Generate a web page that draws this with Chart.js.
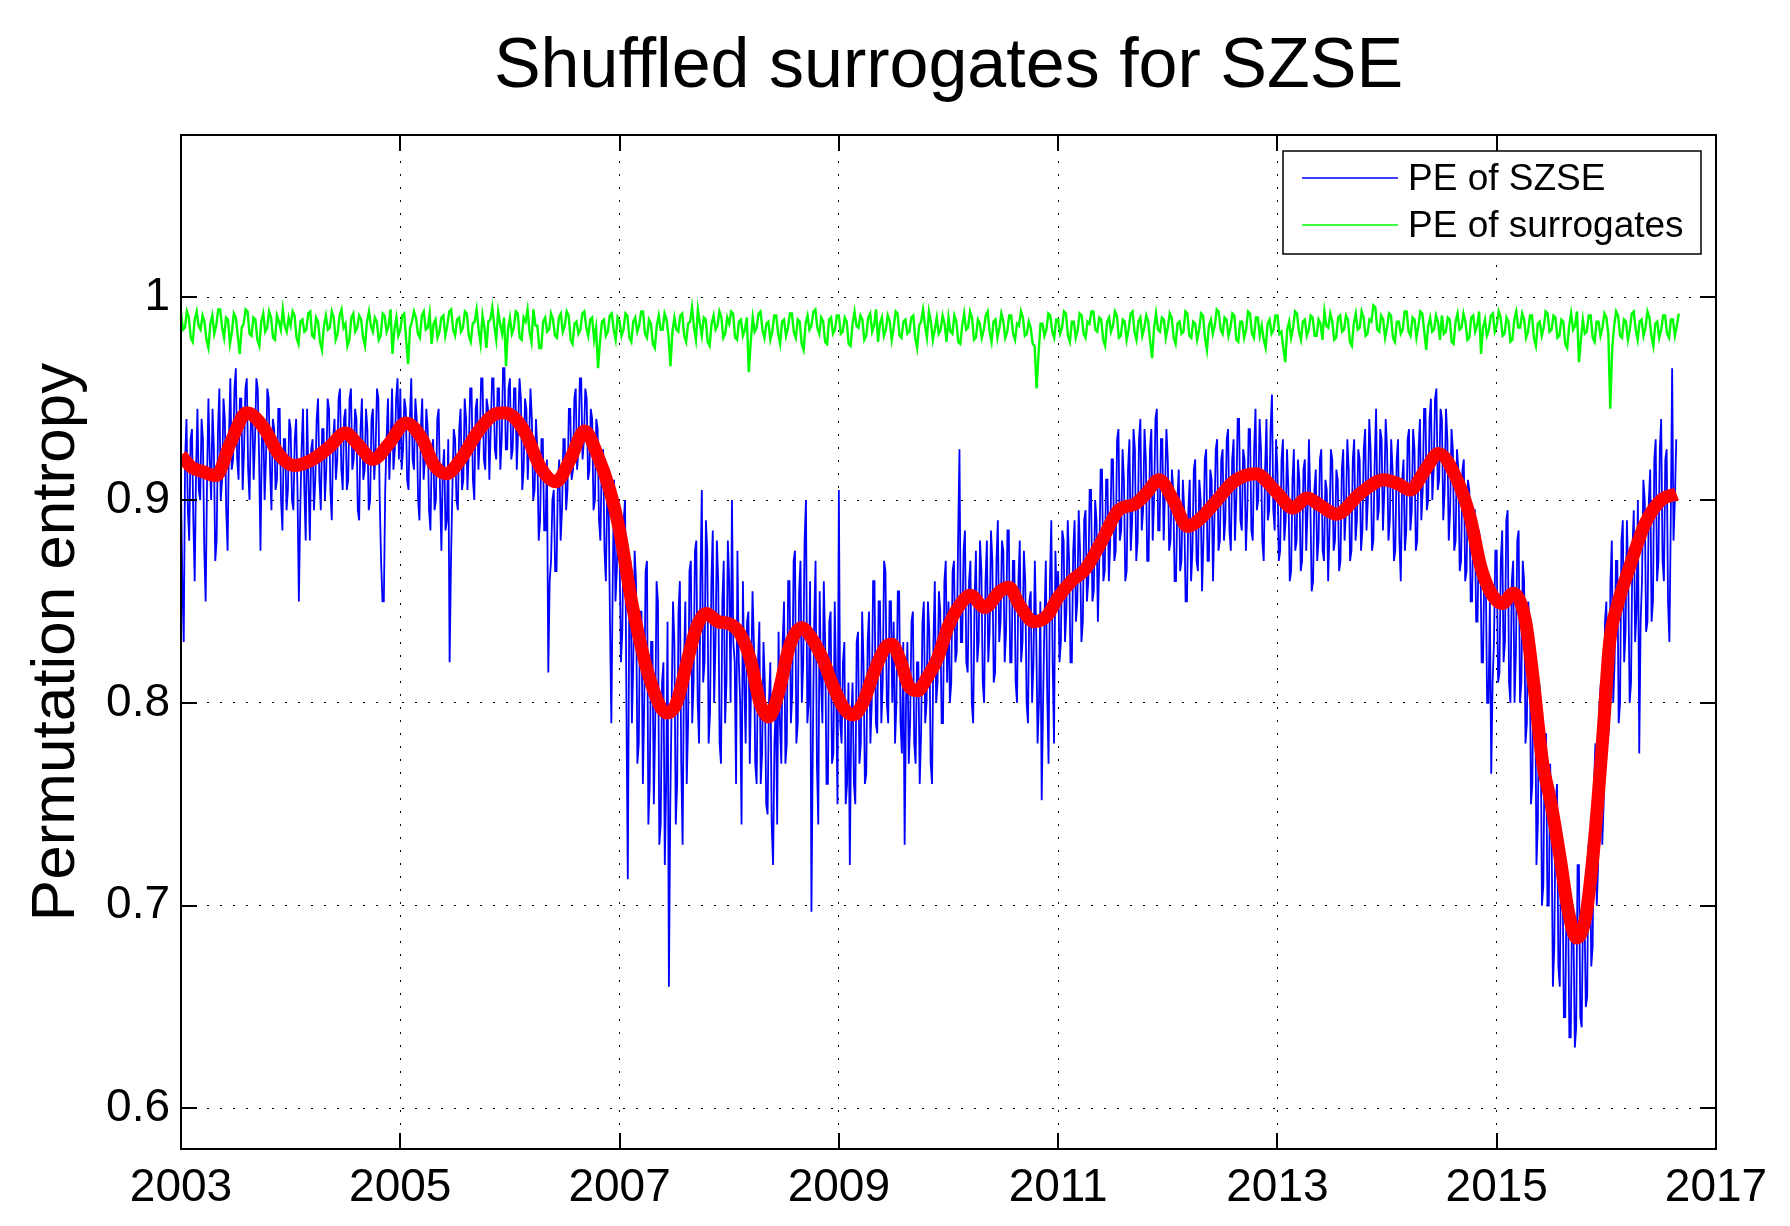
<!DOCTYPE html>
<html>
<head>
<meta charset="utf-8">
<title>Shuffled surrogates for SZSE</title>
<script src="https://cdn.jsdelivr.net/npm/chart.js@4.4.1/dist/chart.umd.min.js"></script>
<style>
  html, body { margin: 0; padding: 0; background: #fff; }
  #wrap { width: 1790px; height: 1226px; }
</style>
</head>
<body>
<div id="wrap"><canvas id="chart" width="1790" height="1226"></canvas></div>
<script>
// Axis ticks
const xTicks = [2003, 2005, 2007, 2009, 2011, 2013, 2015, 2017];
const yTicks = [0.6, 0.7, 0.8, 0.9, 1.0];

// PE of SZSE, one value every 1/80 year from 2003.0 (two lines = half a year)
const szseStart = 2003;
const szseStep = 1 / 80;
const szseValues = [
  .905,.86,.83,.92,.94,.895,.88,.93,.935,.89,.86,.915,.945,.905,.90,.94,.93,.875,.85,.91,
  .95,.92,.90,.945,.925,.87,.88,.935,.955,.90,.91,.95,.94,.895,.875,.93,.96,.915,.92,.955,
  .965,.92,.91,.95,.95,.905,.925,.955,.96,.915,.90,.94,.945,.91,.93,.96,.955,.92,.875,.93,
  .94,.90,.92,.955,.95,.915,.895,.94,.935,.905,.91,.945,.945,.90,.885,.93,.93,.895,.905,.94,
  .935,.90,.895,.93,.94,.905,.85,.895,.925,.945,.905,.88,.945,.91,.88,.925,.93,.895,.91,.94,
  .95,.91,.895,.935,.935,.90,.915,.95,.945,.905,.89,.93,.94,.91,.92,.95,.955,.915,.905,.94,
  .945,.905,.91,.95,.955,.915,.92,.945,.94,.895,.89,.935,.95,.91,.915,.945,.935,.895,.90,.94,
  .945,.91,.925,.955,.95,.90,.87,.85,.85,.905,.93,.95,.91,.93,.955,.915,.925,.95,.96,.92,
  .955,.915,.925,.95,.945,.91,.905,.94,.96,.92,.915,.95,.94,.90,.89,.935,.95,.91,.92,.945,
  .935,.895,.885,.925,.93,.895,.90,.94,.945,.905,.875,.915,.925,.885,.89,.93,.82,.87,.905,.935,
  .93,.90,.895,.935,.945,.905,.91,.95,.94,.905,.925,.955,.955,.91,.90,.945,.95,.915,.93,.96,
  .96,.92,.915,.95,.945,.91,.935,.96,.96,.925,.92,.955,.955,.915,.93,.965,.965,.925,.925,.955,
  .96,.92,.925,.955,.955,.915,.935,.96,.95,.905,.915,.95,.945,.91,.93,.955,.94,.90,.905,.94,
  .925,.88,.89,.93,.93,.885,.885,.92,.815,.86,.87,.90,.905,.865,.865,.91,.92,.88,.895,.93,
  .93,.895,.905,.945,.945,.91,.915,.95,.955,.915,.925,.96,.96,.92,.93,.955,.95,.91,.915,.945,
  .94,.895,.90,.94,.935,.89,.88,.92,.925,.875,.86,.905,.90,.84,.79,.86,.91,.85,.865,.90,
  .875,.82,.835,.89,.90,.80,.713,.84,.87,.79,.82,.875,.86,.77,.78,.845,.845,.76,.80,.865,
  .87,.74,.76,.83,.83,.75,.79,.86,.85,.73,.74,.81,.82,.72,.76,.84,.66,.75,.80,.85,
  .83,.74,.76,.845,.86,.77,.73,.82,.85,.76,.79,.865,.87,.79,.81,.875,.88,.80,.78,.86,
  .905,.81,.82,.89,.875,.78,.795,.86,.885,.80,.83,.88,.86,.78,.77,.85,.87,.79,.81,.88,
  .86,.80,.90,.83,.82,.76,.875,.82,.80,.74,.86,.81,.78,.84,.845,.77,.81,.855,.83,.77,
  .76,.82,.84,.76,.775,.83,.81,.75,.745,.80,.82,.74,.72,.78,.80,.74,.835,.79,.77,.83,
  .85,.77,.78,.86,.86,.79,.805,.87,.875,.78,.79,.855,.87,.80,.82,.88,.90,.79,.80,.86,
  .697,.78,.84,.87,.77,.74,.855,.81,.79,.86,.83,.76,.76,.84,.845,.77,.775,.85,.81,.75,
  .905,.79,.78,.82,.83,.75,.76,.81,.72,.79,.81,.76,.75,.83,.835,.77,.78,.845,.82,.76,
  .765,.83,.845,.78,.80,.86,.86,.79,.785,.85,.85,.79,.81,.87,.865,.80,.79,.85,.85,.80,
  .84,.78,.80,.855,.855,.79,.775,.83,.73,.80,.83,.77,.79,.84,.845,.78,.77,.82,.82,.76,
  .785,.84,.85,.79,.80,.85,.835,.77,.76,.83,.86,.80,.81,.855,.845,.79,.79,.86,.87,.81,
  .85,.80,.81,.865,.87,.82,.825,.88,.925,.83,.83,.875,.885,.82,.815,.86,.87,.80,.79,.85,
  .875,.82,.83,.88,.865,.81,.80,.86,.88,.82,.835,.885,.87,.81,.815,.87,.89,.83,.84,.88,
  .875,.82,.835,.885,.885,.82,.82,.87,.87,.81,.80,.86,.88,.82,.83,.875,.86,.80,.79,.85,
  .855,.80,.82,.87,.835,.78,.80,.85,.752,.80,.84,.87,.805,.77,.86,.89,.82,.78,.875,.85,
  .865,.82,.83,.885,.88,.83,.845,.89,.87,.82,.82,.875,.89,.84,.85,.895,.875,.83,.84,.89,
  .895,.85,.86,.905,.905,.85,.855,.90,.89,.84,.87,.915,.915,.86,.865,.91,.91,.86,.88,.92,
  .92,.87,.875,.93,.935,.88,.885,.925,.91,.86,.865,.915,.93,.875,.89,.935,.925,.87,.88,.93,
  .94,.885,.895,.935,.92,.87,.87,.925,.935,.88,.90,.94,.945,.885,.885,.93,.93,.88,.905,.935,
  .92,.875,.88,.915,.905,.86,.86,.90,.915,.865,.87,.91,.895,.85,.85,.895,.91,.86,.875,.915,
  .92,.87,.865,.91,.90,.855,.88,.92,.925,.87,.87,.915,.91,.86,.89,.925,.93,.875,.88,.92,
  .925,.88,.89,.93,.935,.885,.875,.92,.93,.88,.90,.94,.94,.89,.885,.925,.92,.875,.895,.935,
  .935,.885,.88,.925,.945,.895,.90,.94,.925,.88,.87,.915,.94,.89,.895,.935,.952,.895,.885,.93,
  .915,.87,.875,.92,.93,.88,.89,.925,.905,.86,.865,.91,.925,.875,.88,.92,.91,.865,.87,.915,
  .92,.875,.895,.93,.90,.855,.86,.905,.915,.87,.88,.92,.925,.875,.87,.91,.905,.86,.885,.925,
  .92,.875,.88,.915,.91,.865,.87,.915,.925,.88,.895,.93,.915,.87,.875,.92,.93,.88,.89,.925,
  .92,.875,.885,.925,.935,.885,.90,.94,.925,.875,.88,.92,.945,.89,.895,.935,.93,.885,.905,.94,
  .925,.88,.89,.93,.915,.87,.875,.92,.93,.88,.86,.91,.92,.875,.885,.93,.935,.885,.895,.935,
  .925,.875,.88,.925,.94,.89,.905,.945,.945,.895,.90,.94,.95,.90,.915,.95,.955,.905,.91,.945,
  .94,.89,.905,.945,.93,.88,.895,.935,.925,.875,.88,.925,.915,.865,.87,.915,.92,.86,.865,.91,
  .905,.85,.85,.895,.895,.84,.84,.885,.88,.82,.82,.87,.865,.80,.80,.85,.765,.81,.83,.875,
  .875,.81,.815,.87,.885,.82,.83,.89,.895,.81,.80,.86,.87,.80,.825,.88,.885,.80,.81,.87,
  .86,.78,.79,.85,.84,.75,.76,.83,.82,.72,.74,.81,.80,.70,.71,.78,.785,.70,.70,.77,
  .74,.66,.68,.75,.76,.67,.66,.73,.72,.645,.645,.71,.705,.635,.635,.70,.69,.63,.64,.72,
  .72,.645,.64,.70,.70,.65,.655,.73,.73,.67,.68,.76,.78,.70,.72,.80,.81,.73,.75,.84,
  .85,.78,.79,.86,.88,.80,.82,.87,.87,.79,.80,.88,.89,.82,.835,.89,.86,.80,.81,.875,
  .895,.83,.845,.90,.775,.84,.86,.91,.90,.835,.84,.90,.915,.84,.85,.92,.93,.86,.87,.925,
  .94,.87,.86,.92,.925,.85,.83,.89,.965,.88,.90,.93
];

// PE of surrogates, one value every 1/56 year from 2003.0 (one line = half a year)
const surrStart = 2003;
const surrStep = 1 / 56;
const surrValues = [
  .992,.984,.985,.993,.99,.98,.978,.989,.993,.986,.984,.991,.988,.979,.975,.987,.991,.982,.986,.994,.994,.985,.98,.99,.989,.977,.983,.992,
  .99,.981,.972,.985,.987,.994,.993,.982,.981,.99,.989,.979,.976,.988,.992,.983,.985,.993,.99,.98,.979,.991,.988,.984,.994,.986,.983,.99,
  .986,.993,.991,.98,.977,.988,.989,.983,.984,.992,.993,.981,.98,.99,.988,.978,.974,.986,.991,.984,.985,.993,.99,.979,.982,.991,.994,.985,
  .987,.976,.979,.99,.992,.983,.985,.991,.989,.98,.976,.988,.993,.986,.983,.99,.988,.979,.981,.992,.991,.983,.986,.994,.972,.984,.99,.981,
  .984,.991,.992,.979,.967,.985,.988,.993,.99,.982,.98,.991,.993,.984,.985,.992,.977,.987,.989,.98,.983,.99,.991,.981,.986,.993,.994,.984,
  .981,.989,.99,.983,.985,.993,.992,.981,.978,.987,.988,.994,.984,.977,.991,.985,.975,.988,.989,.995,.986,.979,.993,.987,.982,.99,.966,.984,
  .99,.982,.985,.993,.992,.98,.979,.99,.988,.994,.983,.978,.994,.986,.986,.975,.975,.988,.99,.983,.984,.992,.989,.981,.98,.99,.992,.983,
  .986,.993,.991,.979,.977,.987,.988,.982,.984,.992,.993,.985,.981,.989,.99,.979,.985,.965,.978,.988,.989,.981,.983,.991,.992,.984,.979,.99,
  .988,.981,.984,.992,.991,.98,.978,.988,.99,.983,.986,.993,.993,.982,.98,.989,.987,.977,.975,.986,.991,.984,.984,.992,.989,.981,.966,.983,
  .99,.984,.983,.991,.992,.981,.978,.987,.988,.995,.985,.979,.994,.987,.981,.99,.989,.978,.976,.987,.991,.984,.986,.993,.99,.98,.982,.99,
  .987,.993,.992,.98,.979,.988,.989,.981,.984,.99,.963,.978,.99,.983,.985,.992,.993,.984,.98,.987,.988,.979,.983,.991,.991,.982,.977,.988,
  .989,.981,.985,.992,.992,.983,.98,.989,.988,.977,.974,.987,.991,.984,.986,.993,.994,.985,.982,.99,.988,.978,.977,.989,.99,.982,.984,.991,
  .991,.982,.983,.99,.988,.977,.976,.987,.993,.986,.985,.991,.989,.979,.981,.99,.992,.983,.986,.994,.978,.987,.99,.981,.984,.991,.988,.979,
  .985,.993,.992,.981,.98,.988,.989,.982,.983,.99,.991,.98,.975,.986,.988,.994,.986,.98,.993,.988,.979,.984,.99,.982,.984,.991,.987,.978,
  .99,.983,.982,.991,.988,.978,.977,.986,.992,.984,.985,.993,.99,.979,.98,.989,.987,.98,.984,.991,.993,.983,.978,.988,.989,.98,.985,.992,
  .988,.98,.983,.991,.991,.982,.979,.987,.986,.993,.99,.981,.982,.988,.985,.977,.976,.955,.972,.987,.987,.981,.984,.992,.991,.983,.98,.989,
  .989,.982,.985,.993,.992,.981,.978,.988,.988,.98,.984,.992,.991,.982,.98,.988,.987,.993,.993,.984,.983,.99,.989,.979,.976,.988,.99,.983,
  .986,.993,.991,.98,.981,.989,.988,.979,.984,.992,.993,.983,.979,.988,.99,.981,.985,.991,.988,.978,.97,.985,.992,.984,.983,.99,.989,.98,
  .985,.992,.99,.98,.977,.987,.988,.982,.983,.993,.992,.981,.98,.988,.987,.979,.984,.992,.991,.98,.974,.986,.989,.982,.986,.994,.993,.984,
  .982,.99,.989,.981,.985,.992,.991,.979,.978,.988,.988,.98,.984,.993,.992,.982,.98,.99,.99,.981,.986,.979,.975,.987,.989,.982,.984,.991,
  .991,.982,.983,.975,.968,.984,.988,.98,.985,.993,.992,.983,.979,.988,.989,.981,.984,.991,.99,.981,.981,.989,.987,.979,.993,.986,.985,.992,
  .988,.979,.98,.99,.991,.983,.984,.991,.989,.978,.976,.987,.992,.984,.985,.993,.99,.981,.982,.989,.988,.996,.995,.984,.983,.991,.989,.98,
  .985,.992,.991,.98,.978,.988,.988,.982,.984,.993,.993,.983,.981,.99,.989,.98,.986,.993,.992,.983,.974,.986,.99,.983,.984,.991,.988,.979,
  .991,.982,.983,.99,.989,.978,.977,.988,.992,.984,.985,.992,.988,.979,.98,.99,.991,.983,.986,.993,.972,.985,.989,.981,.984,.991,.992,.983,
  .986,.993,.99,.981,.982,.99,.988,.978,.979,.989,.993,.985,.985,.992,.989,.98,.983,.991,.991,.98,.976,.987,.988,.981,.985,.993,.992,.983,
  .984,.991,.99,.98,.981,.989,.988,.977,.975,.986,.992,.984,.986,.993,.968,.979,.989,.982,.983,.991,.991,.98,.978,.988,.988,.981,.985,.992,
  .99,.982,.945,.975,.986,.993,.991,.981,.98,.989,.988,.979,.984,.992,.993,.984,.979,.988,.989,.981,.985,.993,.99,.981,.976,.987,.988,.98,
  .984,.991,.991,.982,.98,.989,.989,.981,.986,.992
];

// Smoothed trend (thick red curve)
const trendYears = [
  2003.00,2003.10,2003.20,2003.32,2003.45,2003.60,2003.75,2003.90,
  2004.03,2004.20,2004.35,2004.50,2004.62,2004.75,2004.90,
  2005.05,2005.20,2005.30,2005.42,2005.55,2005.70,2005.85,2005.95,
  2006.05,2006.15,2006.28,2006.42,2006.55,2006.68,2006.80,2006.91,
  2007.00,2007.12,2007.28,2007.43,2007.52,2007.61,2007.70,2007.79,2007.90,
  2008.00,2008.10,2008.20,2008.28,2008.36,2008.45,2008.55,2008.66,2008.75,2008.85,2008.95,
  2009.05,2009.13,2009.22,2009.32,2009.42,2009.48,2009.56,2009.64,2009.72,2009.80,2009.90,
  2010.00,2010.10,2010.20,2010.33,2010.47,2010.55,2010.65,2010.78,2010.90,
  2011.00,2011.12,2011.25,2011.40,2011.55,2011.70,2011.80,2011.92,
  2012.05,2012.18,2012.30,2012.45,2012.60,2012.80,2012.99,
  2013.14,2013.27,2013.40,2013.54,2013.75,2013.97,
  2014.10,2014.21,2014.35,2014.47,2014.63,2014.76,2014.85,2014.94,
  2015.05,2015.15,2015.26,2015.33,2015.42,2015.49,2015.58,2015.65,2015.73,2015.81,2015.87,2015.92,2015.97,
  2016.03,2016.10,2016.20,2016.35,2016.50,2016.64
];
const trendValues = [
  .922,.916,.914,.912,.928,.943,.936,.922,
  .917,.920,.926,.933,.927,.920,.928,
  .938,.930,.918,.913,.920,.933,.942,.943,
  .940,.932,.916,.909,.920,.934,.922,.905,
  .885,.847,.811,.795,.800,.819,.837,.844,.840,
  .839,.834,.820,.800,.793,.805,.828,.837,.832,.822,.808,
  .797,.794,.800,.815,.827,.829,.821,.808,.806,.812,.822,
  .838,.848,.853,.847,.855,.857,.848,.840,.843,
  .852,.860,.866,.880,.895,.898,.903,.910,
  .900,.887,.891,.900,.909,.913,.904,
  .896,.901,.897,.893,.903,.910,
  .908,.905,.915,.923,.911,.891,.868,.855,
  .849,.854,.841,.813,.770,.752,.723,.698,.684,.694,.720,.750,.785,
  .830,.848,.865,.888,.900,.903
];

const chartTitle = 'Shuffled surrogates for SZSE';
const FONT = '"Liberation Sans", Arial, Helvetica, sans-serif';
const TICK_LEN = 16;

function evenSeries(values, start, step) {
  return values.map((v, i) => ({ x: start + i * step, y: v }));
}

// Title centred over the plot box, as MATLAB does
const plotTitle = {
  id: 'plotTitle',
  afterDraw(chart) {
    const { ctx, chartArea: a } = chart;
    ctx.save();
    ctx.fillStyle = '#000';
    ctx.font = '70px ' + FONT;
    ctx.textAlign = 'center';
    ctx.textBaseline = 'middle';
    ctx.fillText(chartTitle, (a.left + a.right) / 2, 68);
    ctx.restore();
  }
};

// Box round the plot with inward ticks on all four sides
const axisFrame = {
  id: 'axisFrame',
  afterDatasetsDraw(chart) {
    const { ctx, chartArea: a, scales: { x, y } } = chart;
    ctx.save();
    ctx.strokeStyle = '#000';
    ctx.lineWidth = 2;
    ctx.beginPath();
    x.ticks.forEach(t => {
      const px = Math.round(x.getPixelForValue(t.value));
      ctx.moveTo(px, a.bottom); ctx.lineTo(px, a.bottom - TICK_LEN);
      ctx.moveTo(px, a.top); ctx.lineTo(px, a.top + TICK_LEN);
    });
    y.ticks.forEach(t => {
      const py = Math.round(y.getPixelForValue(t.value));
      ctx.moveTo(a.left, py); ctx.lineTo(a.left + TICK_LEN, py);
      ctx.moveTo(a.right, py); ctx.lineTo(a.right - TICK_LEN, py);
    });
    ctx.stroke();
    ctx.strokeRect(a.left, a.top, a.right - a.left, a.bottom - a.top);
    ctx.restore();
  }
};

// Boxed legend in the top right corner
const boxLegend = {
  id: 'boxLegend',
  afterDraw(chart) {
    const { ctx, chartArea: a } = chart;
    const items = chart.data.datasets.filter(d => d.inLegend);
    const w = 418, h = 103;
    const bx = a.right - 15 - w, by = a.top + 16;
    ctx.save();
    ctx.fillStyle = '#fff';
    ctx.fillRect(bx, by, w, h);
    ctx.strokeStyle = '#000';
    ctx.lineWidth = 1.5;
    ctx.strokeRect(bx, by, w, h);
    ctx.font = '37px ' + FONT;
    ctx.textBaseline = 'middle';
    items.forEach((d, i) => {
      const ly = by + 27 + i * 47;
      ctx.strokeStyle = d.borderColor;
      ctx.lineWidth = 1.5;
      ctx.beginPath();
      ctx.moveTo(bx + 19, ly);
      ctx.lineTo(bx + 115, ly);
      ctx.stroke();
      ctx.fillStyle = '#000';
      ctx.fillText(d.label, bx + 125, ly + 2);
    });
    ctx.restore();
  }
};

const ctx = document.getElementById('chart').getContext('2d');
new Chart(ctx, {
  type: 'line',
  data: {
    datasets: [
      {
        label: 'PE of SZSE',
        inLegend: true,
        data: evenSeries(szseValues, szseStart, szseStep),
        borderColor: '#0000ff',
        borderWidth: 1.8,
        pointRadius: 0,
        tension: 0,
        order: 1
      },
      {
        label: 'PE of surrogates',
        inLegend: true,
        data: evenSeries(surrValues, surrStart, surrStep),
        borderColor: '#00ff00',
        borderWidth: 2.4,
        pointRadius: 0,
        tension: 0,
        order: 2
      },
      {
        label: 'Trend',
        inLegend: false,
        data: trendYears.map((yr, i) => ({ x: yr, y: trendValues[i] })),
        borderColor: '#ff0000',
        borderWidth: 13,
        pointRadius: 0,
        cubicInterpolationMode: 'monotone',
        order: 0
      }
    ]
  },
  options: {
    responsive: false,
    devicePixelRatio: 1,
    animation: false,
    layout: { padding: { left: 0, right: 74, top: 135, bottom: 0 } },
    plugins: {
      legend: { display: false },
      tooltip: { enabled: false },
      title: { display: false }
    },
    scales: {
      x: {
        type: 'linear',
        min: 2003,
        max: 2017,
        afterBuildTicks: scale => { scale.ticks = xTicks.map(v => ({ value: v })); },
        afterFit: scale => { scale.height = 77; },
        ticks: {
          autoSkip: false,
          maxRotation: 0,
          padding: 12,
          color: '#000',
          font: { family: FONT, size: 46 },
          callback: v => String(v)
        },
        grid: { color: '#000', lineWidth: 1, drawTicks: false },
        border: { display: false, dash: [2, 11] }
      },
      y: {
        type: 'linear',
        min: 0.58,
        max: 1.08,
        afterBuildTicks: scale => { scale.ticks = yTicks.map(v => ({ value: v })); },
        afterFit: scale => { scale.width = 181; },
        ticks: {
          padding: 11,
          color: '#000',
          font: { family: FONT, size: 46 },
          callback: v => String(Math.round(v * 10) / 10)
        },
        grid: { color: '#000', lineWidth: 1, drawTicks: false },
        border: { display: false, dash: [2, 11] },
        title: {
          display: true,
          text: 'Permutation entropy',
          color: '#000',
          font: { family: FONT, size: 62, lineHeight: 1.2 },
          padding: { top: 20, bottom: 0 }
        }
      }
    }
  },
  plugins: [axisFrame, boxLegend, plotTitle]
});
</script>
</body>
</html>
